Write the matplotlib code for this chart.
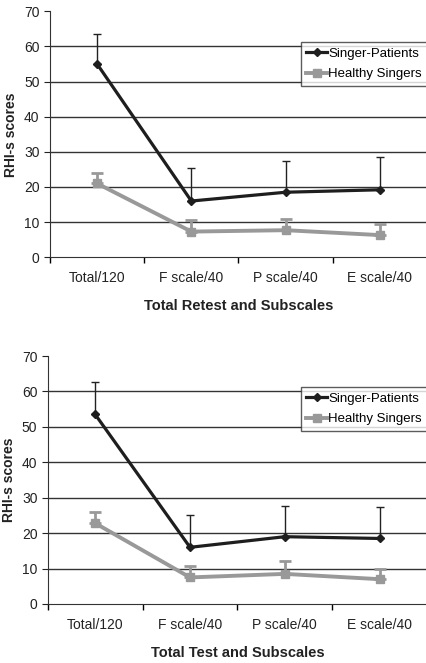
import numpy as np
import matplotlib.pyplot as plt
from matplotlib.lines import Line2D

plt.rcParams['font.family'] = ['Liberation Sans', 'DejaVu Sans']

categories = ['Total/120', 'F scale/40', 'P scale/40', 'E scale/40']

# Retest (top panel)
retest_patients = [55.0, 16.0, 18.5, 19.2]
retest_patients_err = [8.5, 9.5, 9.0, 9.3]
retest_healthy = [21.0, 7.3, 7.7, 6.3]
retest_healthy_err = [3.0, 3.2, 3.3, 3.2]

# Test (bottom panel)
test_patients = [53.5, 16.0, 19.0, 18.5]
test_patients_err = [9.3, 9.0, 8.8, 9.0]
test_healthy = [22.8, 7.5, 8.5, 7.0]
test_healthy_err = [3.2, 3.3, 3.5, 3.0]

dark = '#1e1e1e'
grey = '#999999'
narrow = ['Liberation Sans Narrow', 'Liberation Sans']

fig = plt.figure(figsize=(4.27, 6.63), dpi=100)
ax1 = fig.add_axes([0.117, 0.612, 0.883, 0.371])
ax2 = fig.add_axes([0.112, 0.089, 0.888, 0.374])

panels = [
    (ax1, retest_patients, retest_patients_err, retest_healthy, retest_healthy_err,
     'Total Retest and Subscales'),
    (ax2, test_patients, test_patients_err, test_healthy, test_healthy_err,
     'Total Test and Subscales'),
]

x = np.arange(len(categories))
for ax, sp, sp_err, hs, hs_err, xlabel in panels:
    for y in range(10, 70, 10):
        ax.axhline(y, color='#333333', lw=1.0, zorder=0)
    ax.errorbar(x, hs, yerr=[np.zeros(len(hs)), hs_err], color=grey, lw=2.8,
                marker='s', ms=6, capsize=4, elinewidth=2, capthick=2, zorder=2)
    ax.errorbar(x, sp, yerr=[np.zeros(len(sp)), sp_err], color=dark, lw=2.3,
                marker='D', ms=4.5, capsize=3, elinewidth=1, capthick=1,
                ecolor='#222222', zorder=3)
    ax.set_xlim(-0.5, 3.5)
    ax.set_ylim(0, 70)
    ax.set_yticks(range(0, 80, 10))
    ax.set_xticks(x)
    ax.set_xticklabels(categories, fontsize=10, color='#222222', family=narrow)
    ax.set_xticks(np.arange(-0.5, 3.6, 1), minor=True)
    ax.tick_params(axis='x', which='major', length=0, pad=10)
    ax.tick_params(axis='x', which='minor', length=4, direction='out', width=1)
    ax.tick_params(axis='y', length=4, direction='out', labelsize=10, colors='#222222')
    for lab in ax.get_yticklabels():
        lab.set_family(narrow)
    for side in ['top', 'right']:
        ax.spines[side].set_visible(False)
    ax.spines['left'].set_color('#333333')
    ax.spines['bottom'].set_color('#333333')
    ax.set_xlabel(xlabel, fontsize=10.5, fontweight='bold', labelpad=10, color='#222222',
                  family=narrow)
    ax.set_ylabel('RHI-s scores', fontsize=10, fontweight='bold', labelpad=4, color='#222222')
    handles = [
        Line2D([], [], color=dark, lw=2.3, marker='D', ms=4.5),
        Line2D([], [], color=grey, lw=2.8, marker='s', ms=6),
    ]
    leg = ax.legend(handles, ['Singer-Patients', 'Healthy Singers'], loc='upper right',
                    bbox_to_anchor=(1.0, 0.875), frameon=True,
                    fancybox=False, edgecolor='#333333', handlelength=1.6,
                    handletextpad=0.05, borderpad=0.4, labelspacing=0.65,
                    borderaxespad=0, prop={'family': narrow, 'size': 9.5})
    leg.get_frame().set_linewidth(1.0)

fig.savefig('out.png', dpi=100)
